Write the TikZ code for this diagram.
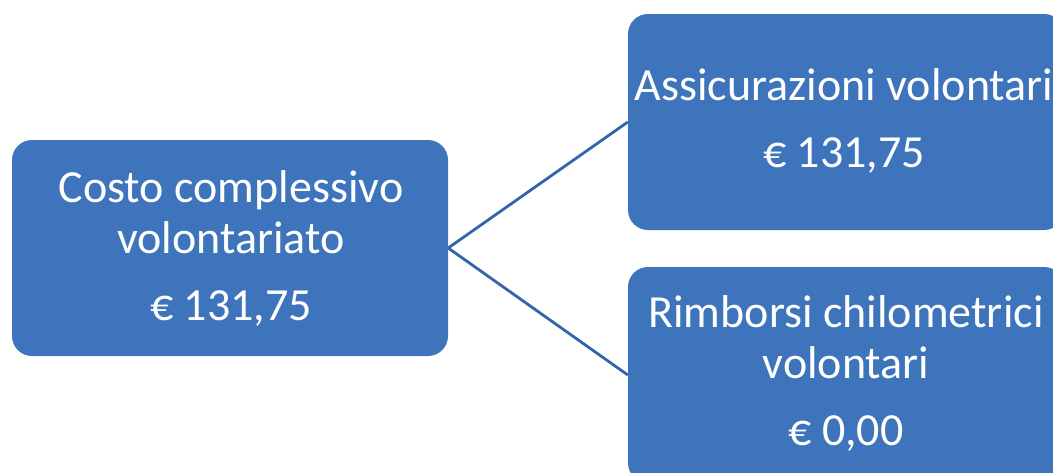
\documentclass[tikz,border=0pt]{standalone}
\usepackage{fontspec}
\setmainfont{Carlito}
\definecolor{boxblue}{RGB}{62,116,188}
\definecolor{lineblue}{RGB}{52,100,170}

\begin{document}
\begin{tikzpicture}[x=1pt, y=-1pt,
  box/.style={fill=boxblue, rounded corners=20pt, minimum width=436pt, minimum height=216pt, inner sep=0pt},
  txt/.style={text=white, anchor=base, inner sep=0pt, font=\fontsize{46}{51}\selectfont},
  link/.style={draw=lineblue, line width=2.8pt}]
\useasboundingbox (0,0) rectangle (1053,472);
\clip (0,0) rectangle (1053,472);
% boxes
\node[box] (costo) at (230,248) {};
\node[box] (assic) at (846,122) {};
\node[box] (rimb) at (846,375) {};
% connectors
\draw[link] (costo.east) -- (assic.west);
\draw[link] (costo.east) -- (rimb.west);
% texts
\node[txt] (costo1) at (231,202) {Costo complessivo};
\node[txt] (costo2) at (231,253) {volontariato};
\node[txt] (costo3) at (231,320) {€ 131,75};
\node[txt] (assic1) at (844,100) {Assicurazioni volontari};
\node[txt] (assic2) at (844,167) {€ 131,75};
\node[txt] (rimb1) at (846,327) {Rimborsi chilometrici};
\node[txt] (rimb2) at (846,378) {volontari};
\node[txt] (rimb3) at (846,445) {€ 0,00};
\end{tikzpicture}
\end{document}
